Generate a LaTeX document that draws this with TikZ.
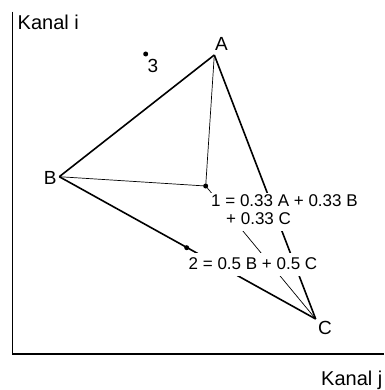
\documentclass[tikz,border=0pt]{standalone}
\usepackage{fontspec}
\setmainfont{Liberation Sans}
\begin{document}
\begin{tikzpicture}[x=1pt,y=-1pt,
  axisline/.style={line width=1.6pt},
  thickline/.style={line width=1.6pt},
  thinline/.style={line width=0.7pt},
  vlabel/.style={inner sep=0pt,anchor=base west,font=\fontsize{19}{22}\selectfont},
  axlabel/.style={inner sep=0pt,anchor=base west,font=\fontsize{20}{24}\selectfont},
  eqlabel/.style={fill=white,inner sep=1.5pt,anchor=base west,font=\fontsize{17}{17.3}\selectfont},
  pointdot/.style={fill=black,draw=none,circle,inner sep=0pt,minimum size=5pt}
]
\useasboundingbox (0,0) rectangle (384,390);
% axes
\coordinate (Y) at (12.5,11.7);
\coordinate (O) at (12.5,354);
\coordinate (X) at (384,354);
\draw[axisline] (Y) -- (O) -- (X);
\node[axlabel] (ki) at (17.5,30) {Kanal i};
\node[axlabel] (kj) at (321,385) {Kanal j};
% vertices
\coordinate (A) at (214.3,55);
\coordinate (B) at (59.3,176.7);
\coordinate (C) at (315.7,319);
\coordinate (P1) at (205.7,186);
\coordinate (P2) at (186.7,247.7);
\coordinate (P3) at (145.7,54);
% triangle
\draw[thickline] (A) -- (B);
\draw[thickline] (A) -- (C);
\draw[thickline] (B) -- (C);
\draw[thinline] (A) -- (P1);
\draw[thinline] (B) -- (P1);
\draw[thinline] (P1) -- (C);
% labels
\node[vlabel] (la) at (215,50.7) {A};
\node[vlabel] (lb) at (43.6,184) {B};
\node[vlabel] (lc) at (318,334) {C};
\node[vlabel] (l3) at (147.5,72.7) {3};
\node[eqlabel] (l1) at (209.5,206.7) {\begin{tabular}[t]{@{}l@{}}1 = 0.33 A + 0.33 B\\\hspace*{15pt}+ 0.33 C\end{tabular}};
\node[eqlabel,text height=15pt,text depth=5pt] (l2) at (187,269.3) {2 = 0.5 B + 0.5 C};
% dots
\node[pointdot] (d1) at (P1) {};
\node[pointdot] (d2) at (P2) {};
\node[pointdot] (d3) at (P3) {};
\end{tikzpicture}
\end{document}
